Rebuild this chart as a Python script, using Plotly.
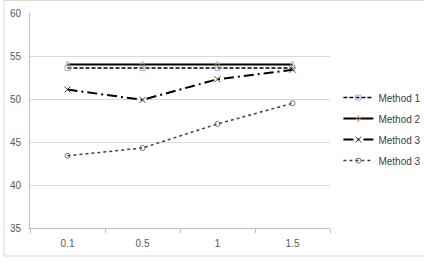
import plotly.graph_objects as go

categories = ["0.1", "0.5", "1", "1.5"]
method1 = [53.6, 53.6, 53.6, 53.6]
method2 = [54.0, 54.0, 54.0, 54.0]
method3a = [51.1, 49.9, 52.3, 53.4]
method3b = [43.4, 44.3, 47.1, 49.5]
names = ["Method 1", "Method 2", "Method 3", "Method 3"]
y_ticks = [35, 40, 45, 50, 55, 60]

fig = go.Figure()
fig.add_trace(go.Scatter(x=categories, y=method1, name=names[0], mode="lines+markers", legendgroup="a",
                         line=dict(color="black", width=1.5, dash="4px,2px"),
                         marker=dict(symbol="square-open", size=5, color="#8DB4E2", line=dict(width=1))))
fig.add_trace(go.Scatter(x=categories, y=method2, name=names[1], mode="lines+markers", legendgroup="b",
                         line=dict(color="black", width=2),
                         marker=dict(symbol="diamond-tall-open", size=5, color="#F4A460", line=dict(width=1))))
fig.add_trace(go.Scatter(x=categories, y=method3a, name=names[2], mode="lines+markers", legendgroup="c",
                         line=dict(color="black", width=2, dash="10px,4px,2px,4px"),
                         marker=dict(symbol="x-thin-open", size=6, color="#404040", line=dict(width=1))))
fig.add_trace(go.Scatter(x=categories, y=method3b, name=names[3], mode="lines+markers", legendgroup="d",
                         line=dict(color="#404040", width=1.5, dash="dot"),
                         marker=dict(symbol="circle-open", size=5, color="#707070", line=dict(width=1))))

fig.update_layout(
    width=424, height=264,
    margin=dict(l=30, r=94, t=13, b=36, autoexpand=False),
    paper_bgcolor="white", plot_bgcolor="white",
    font=dict(family="Liberation Sans, Arial", size=10, color="#595959"),
    showlegend=True,
    legend=dict(x=1.028, y=0.46, xanchor="left", yanchor="middle",
                font=dict(size=10, color="#404040"), itemwidth=30,
                bgcolor="rgba(0,0,0,0)", tracegroupgap=2),
    xaxis=dict(type="category", range=[-0.5, 3.5], showgrid=False,
               showline=True, linecolor="#BFBFBF", linewidth=1,
               ticks="outside", ticklen=4, tickcolor="#BFBFBF", tickson="boundaries",
               ticklabelstandoff=6, tickfont=dict(size=10)),
    yaxis=dict(range=[35, 60], tickvals=y_ticks, showgrid=True, gridcolor="#D9D9D9",
               gridwidth=1, showline=True, linecolor="#BFBFBF", zeroline=False,
               ticks="", ticklabelstandoff=6, tickfont=dict(size=10)),
    shapes=[dict(type="rect", xref="paper", yref="paper",
                 x0=-26/300, x1=400/300, y0=-28/215, y1=1 + 12.5/215,
                 line=dict(color="#D9D9D9", width=1), fillcolor="rgba(0,0,0,0)", layer="below")],
)

fig.write_html("out.html")
